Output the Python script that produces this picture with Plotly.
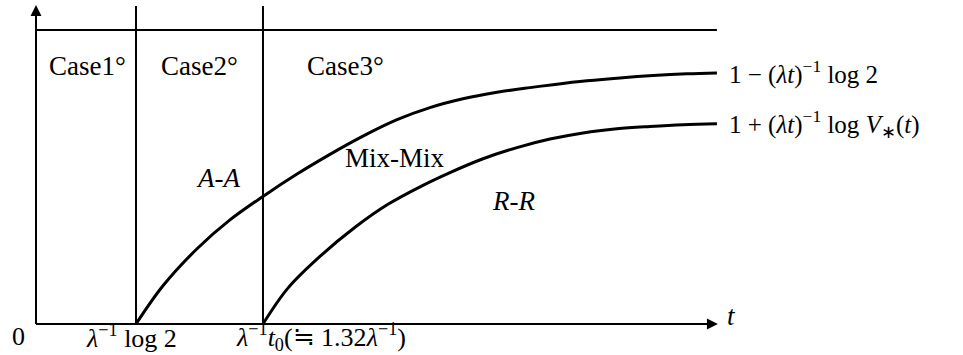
import plotly.graph_objects as go

# Time axis in units of 1/lambda; vertical axis is the normalised level (1 = top line).
t_upper = [0.693, 0.880, 1.116, 1.344, 1.573, 1.809, 2.037, 2.266, 2.502, 2.730,
           2.959, 3.195, 3.423, 3.583, 3.818, 4.047, 4.276, 4.511, 4.719]
v_upper = [0.000, 0.130, 0.256, 0.354, 0.434, 0.510, 0.577, 0.639, 0.695, 0.736,
           0.766, 0.788, 0.804, 0.814, 0.827, 0.837, 0.845, 0.851, 0.854]

t_lower = [1.573, 1.746, 1.982, 2.211, 2.439, 2.675, 2.869, 3.098, 3.333, 3.562,
           3.791, 4.026, 4.255, 4.484, 4.719]
v_lower = [0.000, 0.122, 0.236, 0.329, 0.407, 0.470, 0.515, 0.562, 0.600, 0.629,
           0.650, 0.664, 0.672, 0.678, 0.681]

case_bounds = [0.693, 1.573]          # log 2 and t0 (schematic placement)
t_end = 4.719                         # right end of curves and top line
v_top = 1.0                           # level of the upper horizontal line
axis_top = 1.085                      # tip of the vertical axis arrow
t_arrow = 4.726                       # tip of the time axis arrow

case_labels = ["Case1°", "Case2°", "Case3°"]
case_label_t = [0.357, 1.130, 2.148]
region_labels = ["<i>A</i>-<i>A</i>", "Mix-Mix", "<i>R</i>-<i>R</i>"]
region_label_pos = [(1.268, 0.497), (2.488, 0.565), (3.313, 0.418)]
curve_labels = ["1 − (<i>λt</i>)<sup>−1</sup> log 2",
                "1 + (<i>λt</i>)<sup>−1</sup> log <i>V</i><sub>∗</sub>(<i>t</i>)"]
tick_labels = ["0", "<i>λ</i><sup>−1</sup> log 2",
               "<i>λ</i><sup>−1</sup><i>t</i><sub>0</sub>(≒ 1.32<i>λ</i><sup>−1</sup>)"]
tick_label_t = [-0.121, 0.665, 1.975]

FONT = "Liberation Serif"
BLACK = "#000000"

fig = go.Figure()

for ts, vs in [(t_upper, v_upper), (t_lower, v_lower)]:
    fig.add_trace(go.Scatter(x=ts, y=vs, mode="lines",
                             line=dict(color=BLACK, width=3, shape="spline", smoothing=1.0),
                             hoverinfo="skip", showlegend=False))

shapes = []
# time axis
shapes.append(dict(type="line", xref="x", yref="y", x0=0, x1=t_arrow - 0.03,
                   y0=0, y1=0, line=dict(color=BLACK, width=2.2)))
# vertical axis
shapes.append(dict(type="line", xref="x", yref="y", x0=0, x1=0,
                   y0=0, y1=axis_top - 0.02, line=dict(color=BLACK, width=2)))
# top horizontal line
shapes.append(dict(type="line", xref="x", yref="y", x0=0, x1=t_end,
                   y0=v_top, y1=v_top, line=dict(color=BLACK, width=2)))
# case boundaries
for tb in case_bounds:
    shapes.append(dict(type="line", xref="x", yref="y", x0=tb, x1=tb,
                       y0=0, y1=axis_top - 0.003, line=dict(color=BLACK, width=2)))

annotations = []
# arrow heads
annotations.append(dict(x=t_arrow, y=0, ax=t_arrow - 0.2, ay=0, xref="x", yref="y",
                        axref="x", ayref="y", text="", showarrow=True,
                        arrowhead=2, arrowsize=1.1, arrowwidth=2, arrowcolor=BLACK))
annotations.append(dict(x=0, y=axis_top, ax=0, ay=axis_top - 0.15, xref="x", yref="y",
                        axref="x", ayref="y", text="", showarrow=True,
                        arrowhead=2, arrowsize=1.1, arrowwidth=2, arrowcolor=BLACK))

def label(text, x, y, xanchor="center", size=25):
    annotations.append(dict(x=x, y=y, xref="x", yref="y", text=text, showarrow=False,
                            xanchor=xanchor, yanchor="middle",
                            font=dict(family=FONT, size=size, color=BLACK)))

for txt, tx in zip(case_labels, case_label_t):
    label(txt, tx, 0.878, size=27)
for txt, (tx, vy) in zip(region_labels, region_label_pos):
    label(txt, tx, vy, size=27)
label(curve_labels[0], 4.789, v_upper[-1], xanchor="left")
label(curve_labels[1], 4.789, v_lower[-1], xanchor="left")
for txt, tx in zip(tick_labels, tick_label_t):
    label(txt, tx, -0.043, size=26)
label("<i>t</i>", 4.823, 0.027, size=27)

fig.update_layout(
    width=963, height=355,
    margin=dict(l=0, r=0, t=0, b=0),
    paper_bgcolor="white", plot_bgcolor="white",
    xaxis=dict(range=[-0.2495, 6.4242], visible=False, fixedrange=True),
    yaxis=dict(range=[-0.1054, 1.102], visible=False, fixedrange=True),
    shapes=shapes, annotations=annotations,
    showlegend=False,
)

fig.write_html("out.html")
